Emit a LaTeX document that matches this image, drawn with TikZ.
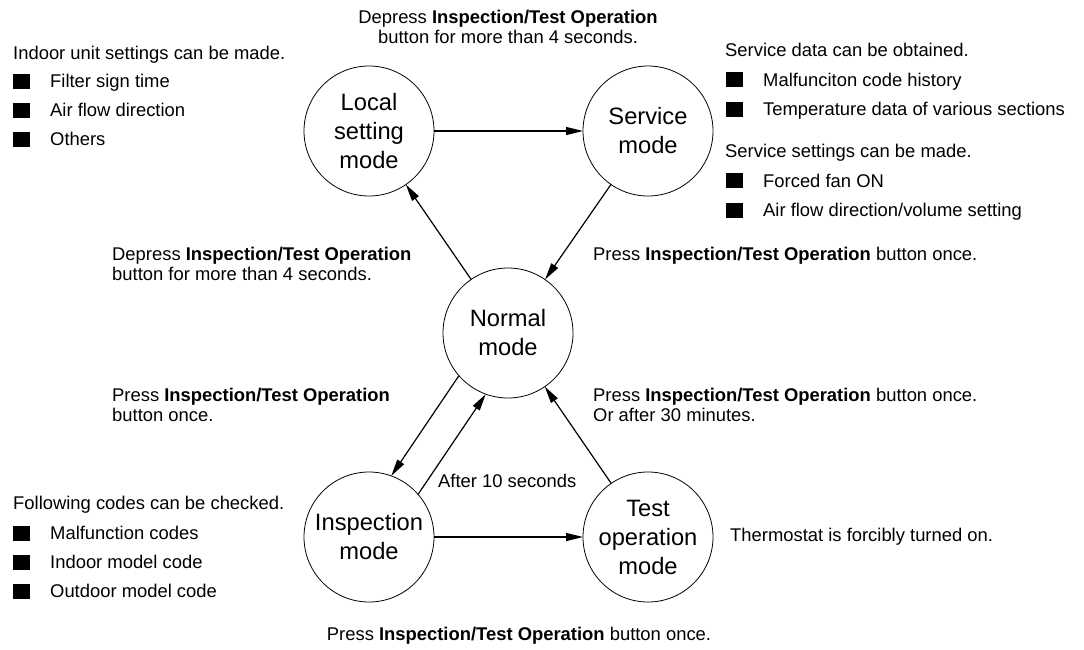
\documentclass[tikz,border=0pt]{standalone}
\usepackage{fontspec}
\setmainfont{Liberation Sans}
\usetikzlibrary{arrows.meta}

\tikzset{
    modenode/.style={draw, circle, line width=0.8pt, minimum size=130pt, inner sep=0pt, outer sep=0pt, align=center, font=\fontsize{23.7}{29}\selectfont},
    notetext/.style={inner sep=0pt, align=left, font=\fontsize{18.4}{20}\selectfont},
    flowarrow/.style={-{Triangle[length=17pt,width=8pt]}, line width=1.2pt},
    sqbullet/.style={fill=black, minimum width=17pt, minimum height=15pt, inner sep=0pt, outer sep=0pt}
}

\begin{document}
\begin{tikzpicture}[x=1pt, y=-1pt]
    \useasboundingbox (0,0) rectangle (1084,649);

    % Modes
    \node[modenode] (local) at (369,131) {Local\\setting\\mode};
    \node[modenode] (service) at (648,131) {Service\\mode};
    \node[modenode] (normal) at (508,333) {Normal\\mode};
    \node[modenode] (insp) at (369,537) {Inspection\\mode};
    \node[modenode] (test) at (648,537) {Test\\operation\\mode};

    % Transitions
    \draw[flowarrow] (local) -- (service);
    \draw[flowarrow] (service) -- (normal);
    \draw[flowarrow] (normal) -- (local);
    \draw[flowarrow] (normal.221.5) -- (insp.70);
    \draw[flowarrow] (insp.41.5) -- (normal.250);
    \draw[flowarrow] (test) -- (normal);
    \draw[flowarrow] (insp) -- (test);

    % Labels (base anchor sits on the last line)
    \node[notetext, align=center, anchor=base] (toplabel) at (508,43) {Depress \textbf{Inspection/Test Operation}\\button for more than 4 seconds.};
    \node[notetext, anchor=base west] (depresslabel) at (112,280.5) {Depress \textbf{Inspection/Test Operation}\\button for more than 4 seconds.};
    \node[notetext, anchor=base west] (presslabel) at (112,421) {Press \textbf{Inspection/Test Operation}\\button once.};
    \node[notetext, anchor=base west] (backlabel) at (593,260) {Press \textbf{Inspection/Test Operation} button once.};
    \node[notetext, anchor=base west] (testbacklabel) at (593,421) {Press \textbf{Inspection/Test Operation} button once.\\Or after 30 minutes.};
    \node[notetext, anchor=base west] (afterlabel) at (438,487) {After 10 seconds};
    \node[notetext, anchor=base] (bottomlabel) at (519,640) {Press \textbf{Inspection/Test Operation} button once.};
    \node[notetext, anchor=base west] (thermolabel) at (730,541.5) {Thermostat is forcibly turned on.};

    % Local setting list
    \node[notetext, anchor=base west] (indoorhead) at (13,59.3) {Indoor unit settings can be made.};
    \node[sqbullet] (lb1) at (21.5,81) {};
    \node[notetext, anchor=base west] (lt1) at (50,87.5) {Filter sign time};
    \node[sqbullet] (lb2) at (21.5,110.2) {};
    \node[notetext, anchor=base west] (lt2) at (50,116.7) {Air flow direction};
    \node[sqbullet] (lb3) at (21.5,139.2) {};
    \node[notetext, anchor=base west] (lt3) at (50,145.7) {Others};

    % Service list
    \node[notetext, anchor=base west] (datahead) at (725,56.7) {Service data can be obtained.};
    \node[sqbullet] (sb1) at (734.2,79.5) {};
    \node[notetext, anchor=base west] (st1) at (763,86) {Malfunciton code history};
    \node[sqbullet] (sb2) at (734.2,109.2) {};
    \node[notetext, anchor=base west] (st2) at (763,115.7) {Temperature data of various sections};
    \node[notetext, anchor=base west] (sethead) at (725,157.3) {Service settings can be made.};
    \node[sqbullet] (sb3) at (734.2,180.8) {};
    \node[notetext, anchor=base west] (st3) at (763,187.3) {Forced fan ON};
    \node[sqbullet] (sb4) at (734.2,210.2) {};
    \node[notetext, anchor=base west] (st4) at (763,216.7) {Air flow direction/volume setting};

    % Inspection list
    \node[notetext, anchor=base west] (codehead) at (13,509.3) {Following codes can be checked.};
    \node[sqbullet] (ib1) at (21.5,533.3) {};
    \node[notetext, anchor=base west] (it1) at (50,539.3) {Malfunction codes};
    \node[sqbullet] (ib2) at (21.5,562.1) {};
    \node[notetext, anchor=base west] (it2) at (50,568.3) {Indoor model code};
    \node[sqbullet] (ib3) at (21.5,591) {};
    \node[notetext, anchor=base west] (it3) at (50,597.3) {Outdoor model code};
\end{tikzpicture}
\end{document}
